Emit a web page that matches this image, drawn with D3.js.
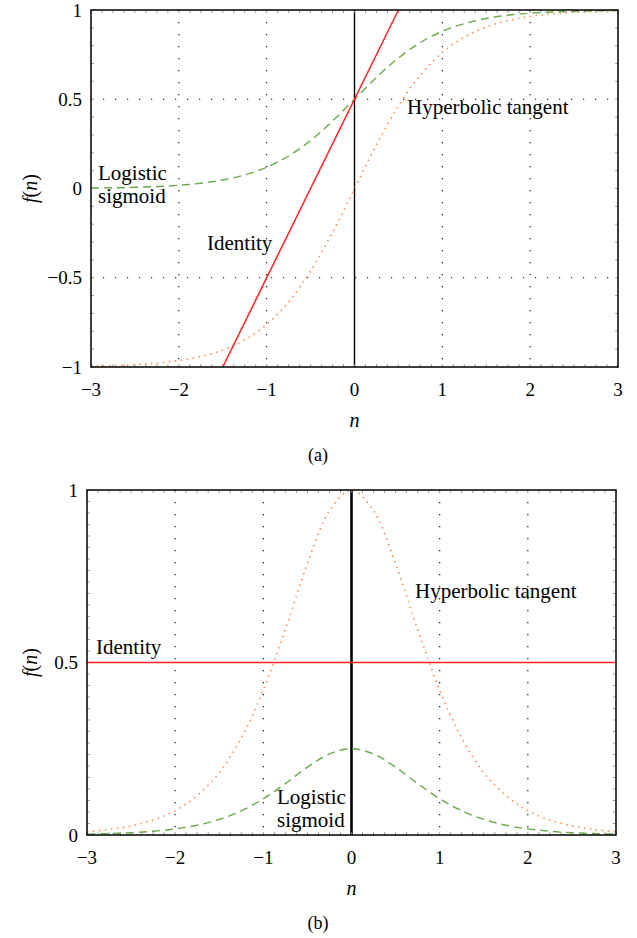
<!DOCTYPE html>
<html><head><meta charset="utf-8">
<script src="https://cdn.jsdelivr.net/npm/d3@7"></script>
<style>
html,body{margin:0;padding:0;background:#fff;}
</style></head>
<body><svg id="c" width="637" height="938" font-family="'Liberation Serif', 'Times New Roman', Tinos, 'DejaVu Serif', 'Noto Serif', serif"></svg>
<script>
// ---------- data ----------
const nValues = [-3,-2.75,-2.5,-2.25,-2,-1.75,-1.5,-1.25,-1,-0.75,-0.5,-0.25,0,0.25,0.5,0.75,1,1.25,1.5,1.75,2,2.25,2.5,2.75,3];
// panel (a): functions
const logisticA = [0.0025,0.0041,0.0067,0.011,0.018,0.0293,0.0474,0.0759,0.1192,0.182,0.269,0.3775,0.5,0.6225,0.731,0.818,0.8808,0.9241,0.9526,0.9707,0.982,0.989,0.9933,0.9959,0.9975];
const tanhA = [-0.995,-0.992,-0.987,-0.978,-0.964,-0.941,-0.905,-0.848,-0.762,-0.635,-0.462,-0.245,0,0.245,0.462,0.635,0.762,0.848,0.905,0.941,0.964,0.978,0.987,0.992,0.995];
const identityAN = [-1.5,0.5];
const identityAF = [-1,1];
// panel (b): derivatives
const logisticB = [0.0025,0.0041,0.0066,0.0109,0.0177,0.0284,0.0452,0.0701,0.105,0.149,0.1966,0.235,0.25,0.235,0.1966,0.149,0.105,0.0701,0.0452,0.0284,0.0177,0.0109,0.0066,0.0041,0.0025];
const tanhB = [0.0099,0.0161,0.0266,0.0434,0.0707,0.1144,0.1807,0.281,0.42,0.5966,0.7864,0.94,1,0.94,0.7864,0.5966,0.42,0.281,0.1807,0.1144,0.0707,0.0434,0.0266,0.0161,0.0099];
const identityBN = [-3,3];
const identityBF = [0.5,0.5];
// ticks
const xTicks = [-3,-2,-1,0,1,2,3];
const yTicksA = [-1,-0.5,0,0.5,1];
const yTicksB = [0,0.5,1];
const gridXA = [-2,-1,1,2];
const gridYA = [-0.5,0.5];
const gridXB = [-2,-1,1,2];
const gridYB = [0.5];

// ---------- drawing ----------
const svg = d3.select("#c");
svg.append("rect").attr("width",637).attr("height",938).attr("fill","#fff");
const fmt = v => (v<0 ? "\u2212" : "") + String(Math.abs(v));

function panel(o){
  const x = d3.scaleLinear().domain([-3,3]).range([o.left,o.right]);
  const y = d3.scaleLinear().domain(o.yDomain).range([o.bottom,o.top]);
  const g = svg.append("g");
  // grid
  g.selectAll(".gx").data(o.gridX).join("line")
    .attr("x1",d=>x(d)).attr("x2",d=>x(d)).attr("y1",o.top).attr("y2",o.bottom)
    .attr("stroke","#000").attr("stroke-width",1.1).attr("stroke-dasharray","1.2,10.8");
  g.selectAll(".gy").data(o.gridY).join("line")
    .attr("y1",d=>y(d)).attr("y2",d=>y(d)).attr("x1",o.left).attr("x2",o.right)
    .attr("stroke","#000").attr("stroke-width",1.1).attr("stroke-dasharray","1.2,10.8");
  // zero axis
  g.append("line").attr("x1",x(0)).attr("x2",x(0)).attr("y1",o.top).attr("y2",o.bottom)
    .attr("stroke","#000").attr("stroke-width",o.zeroW);
  // minor ticks
  const mx = d3.range(-3,3.0001,0.125);
  const my = d3.range(o.yDomain[0],o.yDomain[1]+1e-6,o.minorY);
  g.selectAll(".mxb").data(mx).join("line").attr("x1",d=>x(d)).attr("x2",d=>x(d))
    .attr("y1",o.bottom).attr("y2",o.bottom-3).attr("stroke","#888").attr("stroke-width",0.8);
  g.selectAll(".mxt").data(mx).join("line").attr("x1",d=>x(d)).attr("x2",d=>x(d))
    .attr("y1",o.top).attr("y2",o.top+3).attr("stroke","#888").attr("stroke-width",0.8);
  g.selectAll(".myl").data(my).join("line").attr("y1",d=>y(d)).attr("y2",d=>y(d))
    .attr("x1",o.left).attr("x2",o.left+3).attr("stroke","#888").attr("stroke-width",0.8);
  g.selectAll(".myr").data(my).join("line").attr("y1",d=>y(d)).attr("y2",d=>y(d))
    .attr("x1",o.right).attr("x2",o.right-3).attr("stroke","#888").attr("stroke-width",0.8);

  const clipId = "clip"+o.name;
  svg.append("clipPath").attr("id",clipId).append("rect")
    .attr("x",o.left).attr("y",o.top-1).attr("width",o.right-o.left).attr("height",o.bottom-o.top+2);
  const cg = g.append("g").attr("clip-path",`url(#${clipId})`);
  const line = (xs,ys,curve) => d3.line().x((d,i)=>x(xs[i])).y((d,i)=>y(ys[i])).curve(curve)(xs);
  // series
  cg.append("path").attr("d",line(nValues,o.tanh,d3.curveCatmullRom))
    .attr("fill","none").attr("stroke","#f4945a").attr("stroke-width",1.7).attr("stroke-dasharray","1.5,4.5");
  cg.append("path").attr("d",line(nValues,o.logistic,d3.curveCatmullRom))
    .attr("fill","none").attr("stroke","#6aa84a").attr("stroke-width",1.4).attr("stroke-dasharray","8,5");
  cg.append("path").attr("d",line(o.idN,o.idF,d3.curveLinear))
    .attr("fill","none").attr("stroke","#ff2222").attr("stroke-width",1.5);

  // frame
  g.append("rect").attr("x",o.left).attr("y",o.top).attr("width",o.right-o.left).attr("height",o.bottom-o.top)
    .attr("fill","none").attr("stroke","#000").attr("stroke-width",1.5);

  // tick labels
  g.selectAll(".xt").data(xTicks).join("text").attr("x",d=>x(d)).attr("y",o.bottom+22)
    .attr("text-anchor","middle").attr("dominant-baseline","central").attr("font-size",19).text(fmt);
  g.selectAll(".yt").data(o.yTicks).join("text").attr("x",o.left-9).attr("y",d=>y(d))
    .attr("text-anchor","end").attr("dominant-baseline","central").attr("font-size",19).text(fmt);
  // axis titles
  g.append("text").attr("x",x(0)).attr("y",o.bottom+53).attr("text-anchor","middle")
    .attr("dominant-baseline","central").attr("font-size",20).attr("font-style","italic").text("n");
  const yl = g.append("text").attr("transform",`translate(30,${(o.top+o.bottom)/2}) rotate(-90)`)
    .attr("text-anchor","middle").attr("dominant-baseline","central").attr("font-size",20);
  yl.append("tspan").attr("font-style","italic").text("f");
  yl.append("tspan").text("(");
  yl.append("tspan").attr("font-style","italic").text("n");
  yl.append("tspan").text(")");
  g.append("text").attr("x",318).attr("y",o.bottom+88).attr("text-anchor","middle")
    .attr("dominant-baseline","central").attr("font-size",18).text(o.caption);
  // annotations
  o.labels.forEach(l=>{
    g.append("text").attr("x",l[1]).attr("y",l[2]).attr("font-size",21).text(l[0]);
  });
}

panel({name:"a",left:91,right:618,top:10,bottom:367,yDomain:[-1,1],minorY:0.1,
  gridX:gridXA,gridY:gridYA,zeroW:1.4,yTicks:yTicksA,
  tanh:tanhA,logistic:logisticA,idN:identityAN,idF:identityAF,caption:"(a)",
  labels:[["Logistic",98,180],["sigmoid",98,203],["Identity",207,250],["Hyperbolic tangent",407,114]]});
panel({name:"b",left:87,right:616,top:490,bottom:835,yDomain:[0,1],minorY:1/30,
  gridX:gridXB,gridY:gridYB,zeroW:2.6,yTicks:yTicksB,
  tanh:tanhB,logistic:logisticB,idN:identityBN,idF:identityBF,caption:"(b)",
  labels:[["Identity",96,654],["Hyperbolic tangent",415,598],["Logistic",277,804],["sigmoid",277,827]]});
</script>
</body></html>
